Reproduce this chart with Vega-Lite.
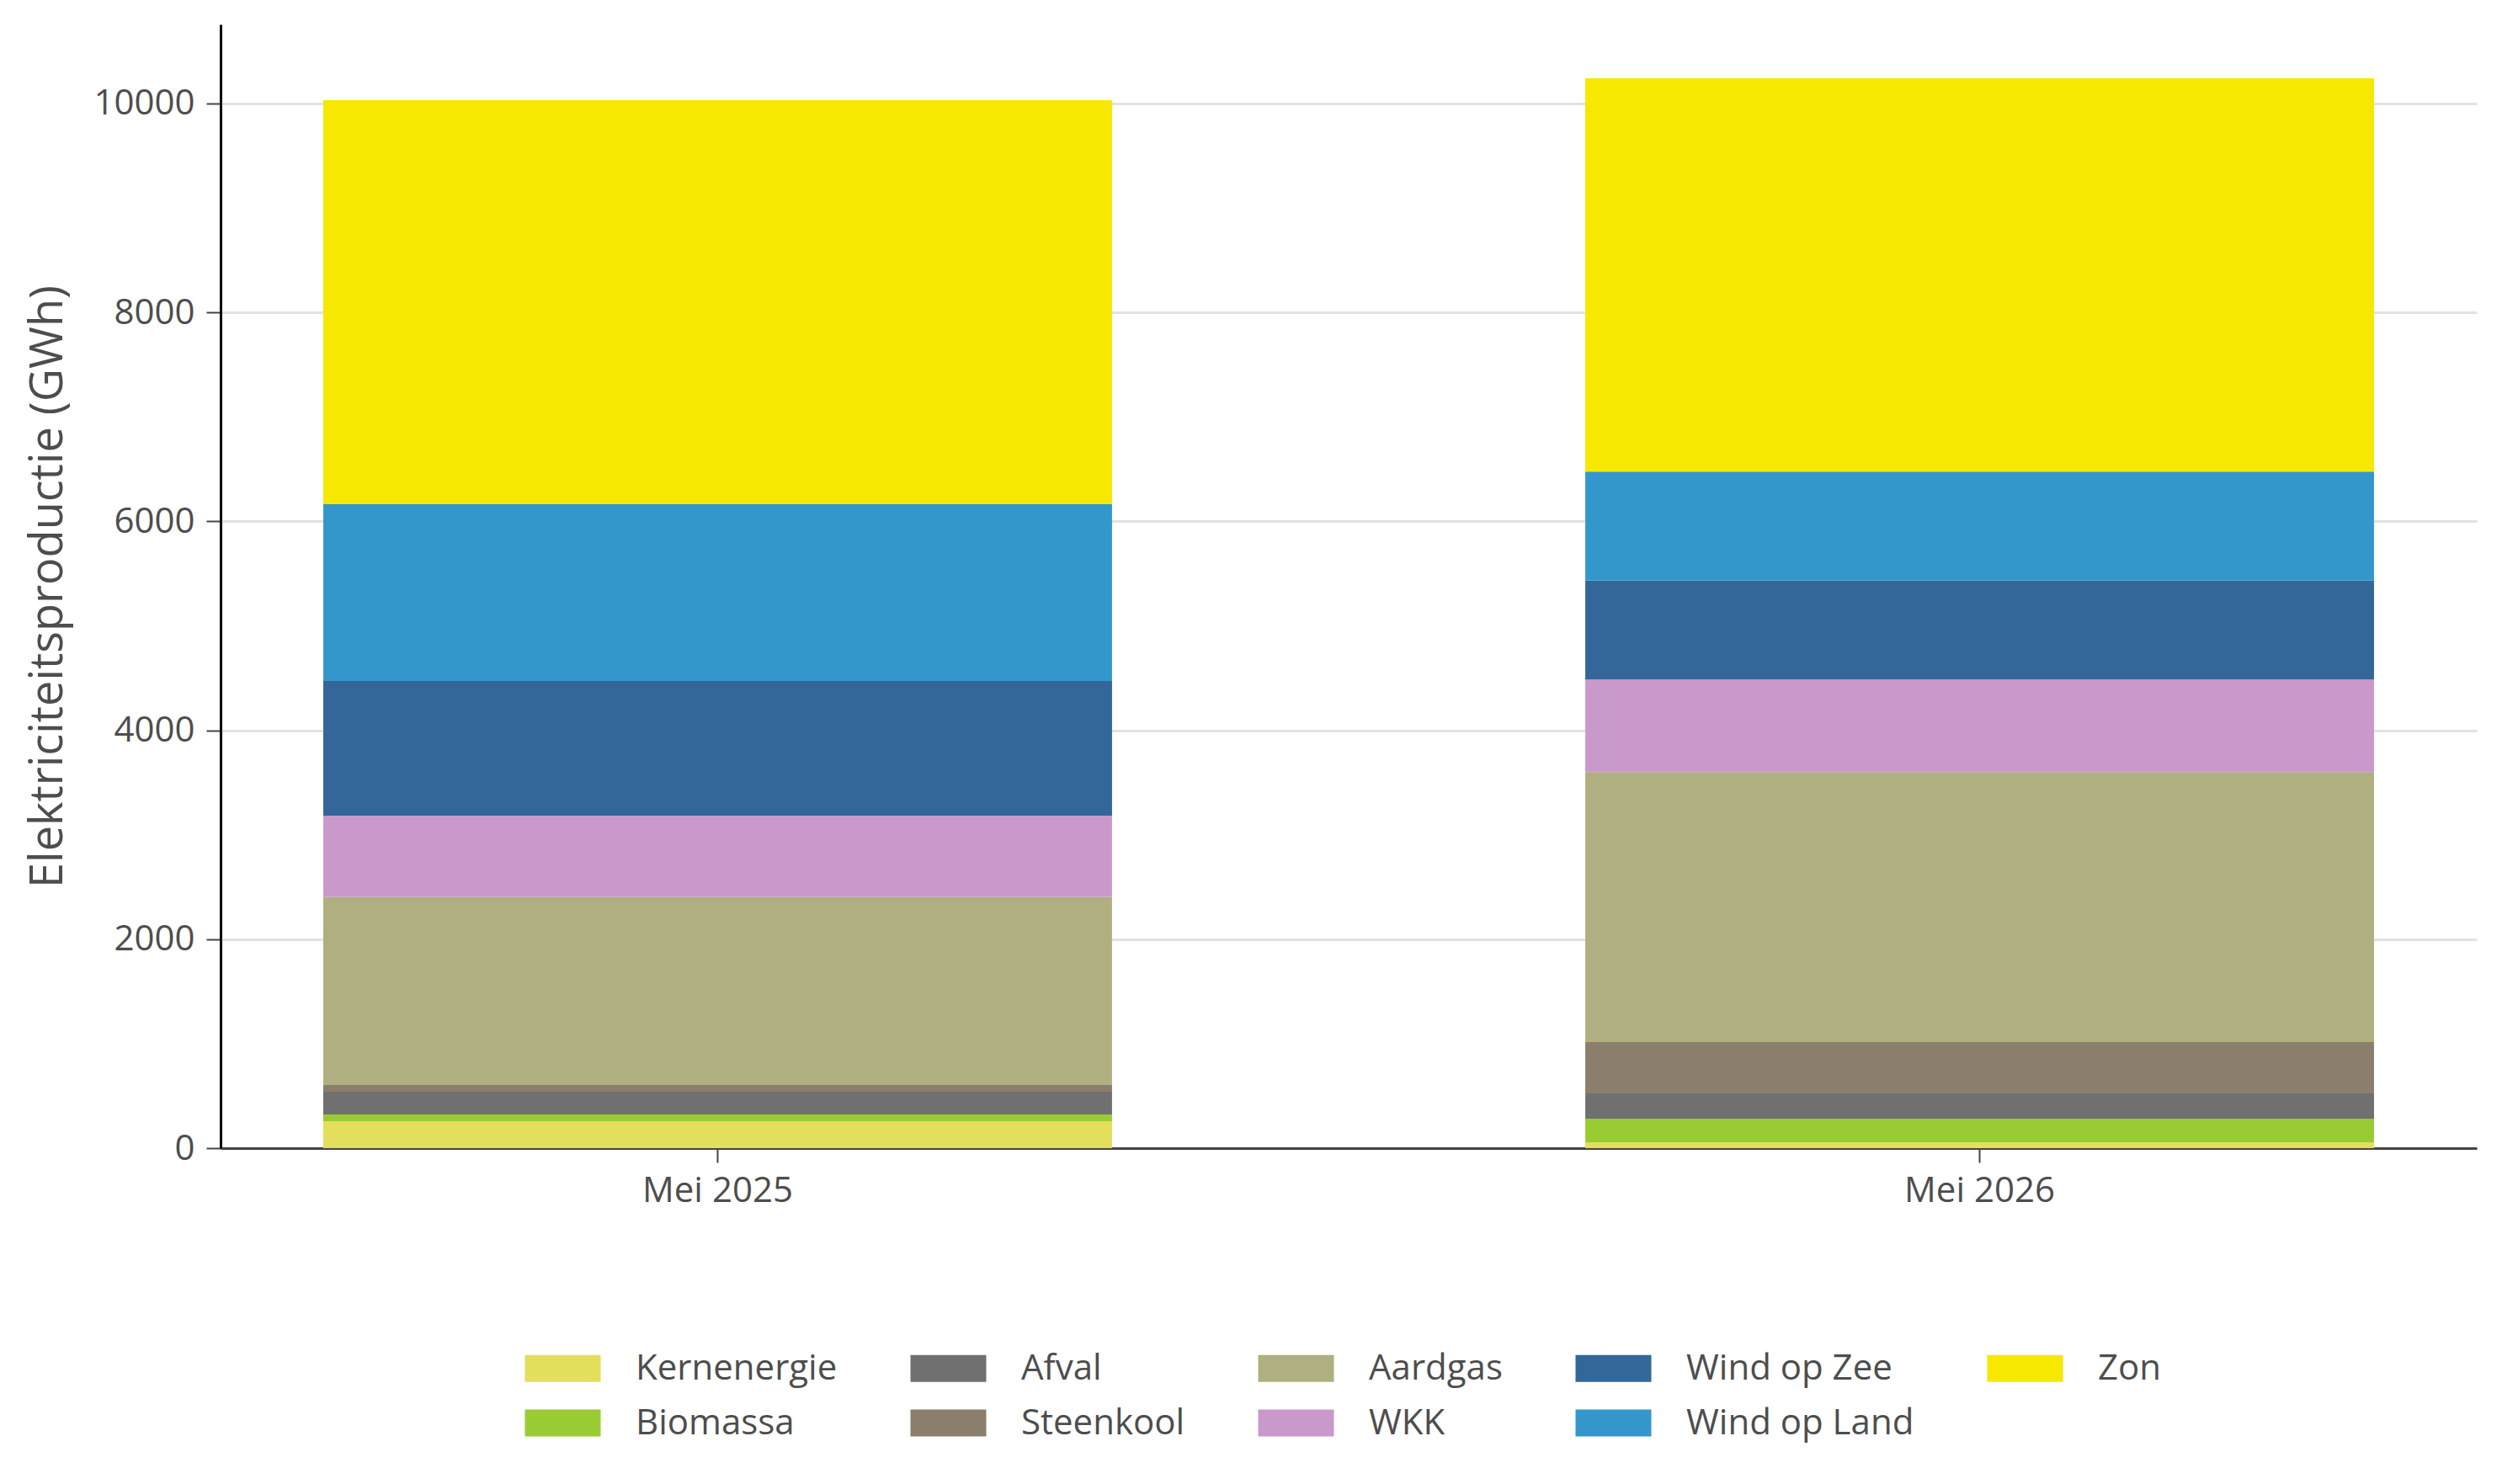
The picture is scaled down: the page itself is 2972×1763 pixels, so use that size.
{
  "$schema": "https://vega.github.io/schema/vega-lite/v6.json",
  "width": 2680,
  "height": 1335,
  "autosize": {"type": "none"},
  "padding": {"left": 262, "top": 29, "right": 30, "bottom": 399},
  "background": "white",
  "config": {
    "font": "Open Sans",
    "view": {"stroke": null},
    "legend": {"layout": {"bottom": {"anchor": "middle"}}}
  },
  "data": {
    "values": [
      {"maand": "Mei 2025", "bron": "Kernenergie", "volgorde": 1, "GWh": 258},
      {"maand": "Mei 2025", "bron": "Biomassa", "volgorde": 2, "GWh": 64},
      {"maand": "Mei 2025", "bron": "Afval", "volgorde": 3, "GWh": 218},
      {"maand": "Mei 2025", "bron": "Steenkool", "volgorde": 4, "GWh": 64},
      {"maand": "Mei 2025", "bron": "Aardgas", "volgorde": 5, "GWh": 1801},
      {"maand": "Mei 2025", "bron": "WKK", "volgorde": 6, "GWh": 778},
      {"maand": "Mei 2025", "bron": "Wind op Zee", "volgorde": 7, "GWh": 1289},
      {"maand": "Mei 2025", "bron": "Wind op Land", "volgorde": 8, "GWh": 1692},
      {"maand": "Mei 2025", "bron": "Zon", "volgorde": 9, "GWh": 3868},
      {"maand": "Mei 2026", "bron": "Kernenergie", "volgorde": 1, "GWh": 56},
      {"maand": "Mei 2026", "bron": "Biomassa", "volgorde": 2, "GWh": 226},
      {"maand": "Mei 2026", "bron": "Afval", "volgorde": 3, "GWh": 242},
      {"maand": "Mei 2026", "bron": "Steenkool", "volgorde": 4, "GWh": 491},
      {"maand": "Mei 2026", "bron": "Aardgas", "volgorde": 5, "GWh": 2584},
      {"maand": "Mei 2026", "bron": "WKK", "volgorde": 6, "GWh": 888},
      {"maand": "Mei 2026", "bron": "Wind op Zee", "volgorde": 7, "GWh": 945},
      {"maand": "Mei 2026", "bron": "Wind op Land", "volgorde": 8, "GWh": 1045},
      {"maand": "Mei 2026", "bron": "Zon", "volgorde": 9, "GWh": 3764}
    ]
  },
  "mark": {"type": "bar", "strokeWidth": 0},
  "encoding": {
    "x": {
      "field": "maand",
      "type": "nominal",
      "sort": ["Mei 2025", "Mei 2026"],
      "scale": {"paddingInner": 0.375, "paddingOuter": 0.0814},
      "axis": {
        "title": null,
        "labelAngle": 0,
        "labelFontSize": 42,
        "labelColor": "#4d4d4d",
        "tickSize": 17,
        "tickColor": "#444444",
        "tickWidth": 2,
        "domainColor": "#444444",
        "domainWidth": 3,
        "labelPadding": 13,
        "grid": false
      }
    },
    "y": {
      "field": "GWh",
      "type": "quantitative",
      "stack": "zero",
      "scale": {"domain": [0, 10757], "nice": false, "zero": true},
      "axis": {
        "title": "Elektriciteitsproductie (GWh)",
        "values": [0, 2000, 4000, 6000, 8000, 10000],
        "format": "d",
        "labelFontSize": 42,
        "labelColor": "#4d4d4d",
        "titleFontSize": 54,
        "titleFontWeight": "normal",
        "titleColor": "#4d4d4d",
        "titlePadding": 26,
        "tickSize": 17,
        "tickColor": "#444444",
        "tickWidth": 2,
        "domainColor": "#000000",
        "domainWidth": 3,
        "gridColor": "#e2e2e2",
        "gridWidth": 3,
        "labelPadding": 14
      }
    },
    "color": {
      "field": "bron",
      "type": "nominal",
      "scale": {
        "domain": ["Kernenergie", "Afval", "Aardgas", "Wind op Zee", "Zon", "Biomassa", "Steenkool", "WKK", "Wind op Land"],
        "range": ["#e3de5c", "#707070", "#b0af80", "#336699", "#f6e800", "#99cc33", "#8b7e6c", "#ca99cb", "#3397cb"]
      },
      "legend": {
        "title": null,
        "orient": "bottom",
        "columns": 5,
        "symbolType": "M-1.4,-0.5H1.4V0.5H-1.4Z",
        "symbolSize": 4133,
        "symbolStrokeWidth": 0,
        "symbolOpacity": 1,
        "labelFontSize": 42,
        "labelColor": "#4d4d4d",
        "labelOffset": 54,
        "columnPadding": 86,
        "rowPadding": 11,
        "offset": 158,
        "labelLimit": 600
      }
    },
    "order": {"field": "volgorde", "type": "quantitative", "sort": "ascending"}
  }
}
